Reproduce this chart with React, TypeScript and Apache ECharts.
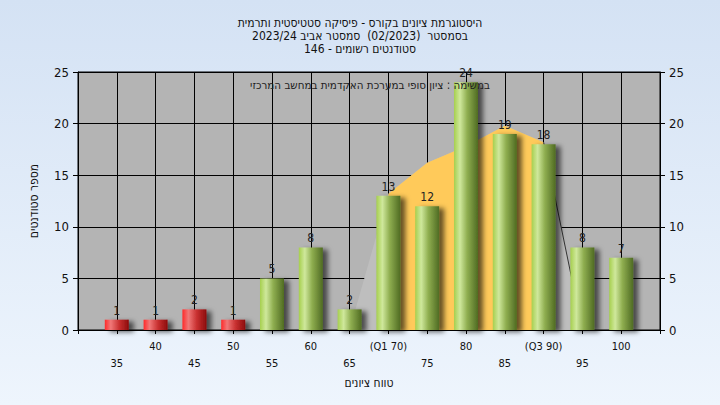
import React, { useEffect, useRef } from "react";
import * as echarts from "echarts";

const titleLines = [
  "היסטוגרמת ציונים בקורס - פיסיקה סטטיסטית ותרמית",
  "בסמסטר  (02/2023)  סמסטר אביב 2023/24",
  "סטודנטים רשומים - 146",
];
const innerNote = "במשימה : ציון סופי במערכת האקדמית במחשב המרכזי";
const xName = "טווח ציונים";
const yName = "מספר סטודנטים";

const categories = [35, 40, 45, 50, 55, 60, 65, 70, 75, 80, 85, 90, 95, 100];
const counts = [1, 1, 2, 1, 5, 8, 2, 13, 12, 24, 19, 18, 8, 7];
const tickLabels = ["35", "40", "45", "50", "55", "60", "65", "(Q1 70)", "75", "80", "85", "(Q3 90)", "95", "100"];
const passGrade = 55;

const curveX = [65, 70, 75, 80, 85, 90, 95];
const curveY = [0, 13.2, 16.2, 17.8, 19.8, 18.2, 0];
const q1 = 70;
const q3 = 90;

const FONT = "'DejaVu Sans Condensed', 'Liberation Sans Narrow', 'Liberation Sans', Arial, sans-serif";

const greenGrad = new echarts.graphic.LinearGradient(0, 0, 1, 0, [
  { offset: 0, color: "#a6cf4e" },
  { offset: 0.25, color: "#cfe89c" },
  { offset: 0.55, color: "#8fae50" },
  { offset: 1, color: "#4f6b22" },
]);
const redGrad = new echarts.graphic.LinearGradient(0, 0, 1, 0, [
  { offset: 0, color: "#ff2a2a" },
  { offset: 0.25, color: "#f07878" },
  { offset: 0.6, color: "#c83030" },
  { offset: 1, color: "#8c0c0c" },
]);

export default function App() {
  const ref = useRef<HTMLDivElement>(null);
  useEffect(() => {
    if (!ref.current) return;
    const chart = echarts.init(ref.current, undefined, { renderer: "svg" });
    const curve = curveX.map((x, i) => [x, curveY[i]]);
    const iqr = curve.filter((p) => p[0] >= q1 && p[0] <= q3);
    const rightEdge = curve.filter((p) => p[0] >= q3);
    const barData = categories.map((c, i) => ({
      value: [c, counts[i]],
      itemStyle: { color: c < passGrade ? redGrad : greenGrad },
    }));
    const labelFor = (v: number) => {
      const idx = categories.indexOf(v);
      if (idx < 0) return "";
      return idx % 2 === 0 ? "\n" + tickLabels[idx] : tickLabels[idx];
    };
    chart.setOption({
      animation: false,
      backgroundColor: "transparent",
      textStyle: { fontFamily: FONT },
      title: {
        text: titleLines.join("\n"),
        left: "center",
        top: 11,
        textStyle: { fontSize: 12, lineHeight: 13, fontWeight: "normal", color: "#111", fontFamily: FONT },
      },
      graphic: [
        {
          type: "text",
          x: 370,
          y: 79,
          z: 100,
          style: { text: innerNote, fontSize: 11.5, fill: "#222", fontFamily: FONT, align: "center" },
        },
      ],
      grid: {
        left: 78,
        right: 60,
        top: 72,
        bottom: 75,
        show: true,
        backgroundColor: "#b4b4b4",
        borderColor: "#000",
        borderWidth: 1,
      },
      xAxis: {
        type: "value",
        min: 30,
        max: 105,
        interval: 5,
        name: xName,
        nameLocation: "middle",
        nameGap: 45,
        nameTextStyle: { fontSize: 12, color: "#111", fontFamily: FONT },
        axisLine: { lineStyle: { color: "#000", width: 1 } },
        axisTick: { show: true, length: 4, lineStyle: { color: "#000" } },
        axisLabel: {
          formatter: labelFor,
          fontSize: 11,
          lineHeight: 17,
          color: "#111",
          margin: 8,
          showMinLabel: true,
          showMaxLabel: true,
          fontFamily: FONT,
        },
        splitLine: { show: true, lineStyle: { color: "#000", width: 1 } },
      },
      yAxis: [
        {
          type: "value",
          min: 0,
          max: 25,
          interval: 5,
          position: "left",
          name: yName,
          nameLocation: "middle",
          nameGap: 38,
          nameRotate: 90,
          nameTextStyle: { fontSize: 12, color: "#111", fontFamily: FONT },
          axisLine: { show: true, lineStyle: { color: "#000" } },
          axisTick: { show: true, length: 5, lineStyle: { color: "#000" } },
          axisLabel: { fontSize: 13, color: "#111", margin: 9, fontFamily: FONT },
          splitLine: { show: true, lineStyle: { color: "#000", width: 1 } },
        },
        {
          type: "value",
          min: 0,
          max: 25,
          interval: 5,
          position: "right",
          axisLine: { show: true, lineStyle: { color: "#000" } },
          axisTick: { show: true, length: 5, lineStyle: { color: "#000" } },
          axisLabel: { fontSize: 13, color: "#111", margin: 9, fontFamily: FONT },
          splitLine: { show: false },
        },
      ],
      series: [
        {
          type: "line",
          data: curve,
          symbol: "none",
          lineStyle: { width: 0 },
          areaStyle: { color: "#bebebe", opacity: 1 },
          z: 1,
        },
        {
          type: "line",
          data: iqr,
          symbol: "none",
          lineStyle: { width: 0 },
          areaStyle: { color: "#ffca5a", opacity: 1 },
          z: 2,
        },
        {
          type: "line",
          data: rightEdge,
          symbol: "none",
          lineStyle: { width: 1, color: "#333" },
          z: 3,
        },
        {
          type: "bar",
          data: barData,
          barWidth: 24,
          z: 4,
          itemStyle: {
            shadowColor: "rgba(0,0,0,0.6)",
            shadowBlur: 5,
            shadowOffsetX: 5,
            shadowOffsetY: 2,
          },
          label: {
            show: true,
            position: "top",
            distance: 3,
            fontSize: 12,
            color: "#222",
            fontFamily: FONT,
            formatter: (p: any) => String(p.value[1]),
          },
        },
      ],
    });
    return () => chart.dispose();
  }, []);
  return (
    <div
      style={{
        position: "absolute",
        left: 0,
        top: 0,
        width: 720,
        height: 405,
        background: "linear-gradient(180deg, #d4e2f4 0%, #eef5fd 100%)",
      }}
    >
      <div ref={ref} style={{ width: 720, height: 405 }} />
    </div>
  );
}
